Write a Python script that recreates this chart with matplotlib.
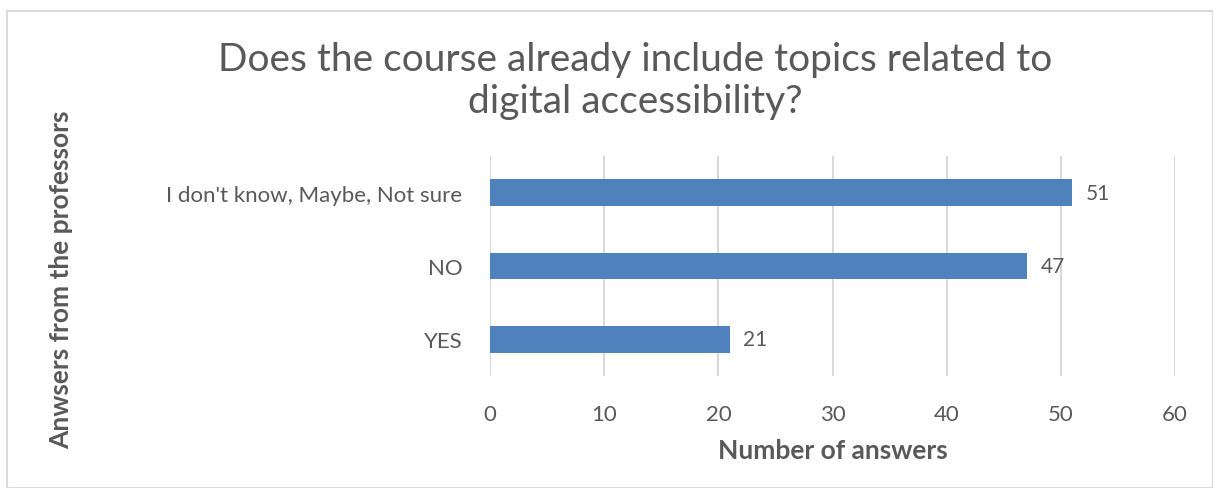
import matplotlib.pyplot as plt
from matplotlib.patches import Rectangle

# data
categories = ["YES", "NO", "I don't know, Maybe, Not sure"]
answers = [21, 47, 51]
ticks = [0, 10, 20, 30, 40, 50, 60]

TEXT = "#595959"
BAR = "#4F81BD"
GRID = "#D9D9D9"

plt.rcParams['font.family'] = ['Lato', 'DejaVu Sans']

fig = plt.figure(figsize=(12.13, 4.89), dpi=100)
ax = fig.add_axes([0.404, 0.229, 0.5647, 0.45])

ax.barh(range(len(categories)), answers, height=0.36, color=BAR, zorder=3)
for i, v in enumerate(answers):
    ax.text(v + 1.2, i, str(v), va='center', ha='left', fontsize=15, color=TEXT)

ax.set_xlim(0, 60)
ax.set_ylim(-0.5, 2.5)
ax.set_xticks(ticks)
ax.set_yticks(range(len(categories)))
ax.set_yticklabels(categories)
ax.tick_params(axis='both', length=0, labelsize=16, labelcolor=TEXT)
ax.tick_params(axis='x', pad=20)
ax.tick_params(axis='y', pad=20)
ax.grid(axis='x', color=GRID, linewidth=1.5, zorder=0)
for s in ax.spines.values():
    s.set_visible(False)

ax.set_xlabel("Number of answers", fontsize=19, fontweight='bold', color=TEXT, labelpad=10)
fig.text(0.05, 0.427, "Anwsers from the professors", rotation=90, ha='center', va='center',
         fontsize=19, fontweight='bold', color=TEXT)

fig.text(0.524, 0.835, "Does the course already include topics related to\ndigital accessibility?",
         ha='center', va='center', fontsize=28, color=TEXT, linespacing=1.2)

# chart border
fig.patches.append(Rectangle((0.006, 0.0), 0.994, 0.975, transform=fig.transFigure,
                             fill=False, edgecolor=GRID, linewidth=1.5))

fig.savefig("out.png", dpi=100)
